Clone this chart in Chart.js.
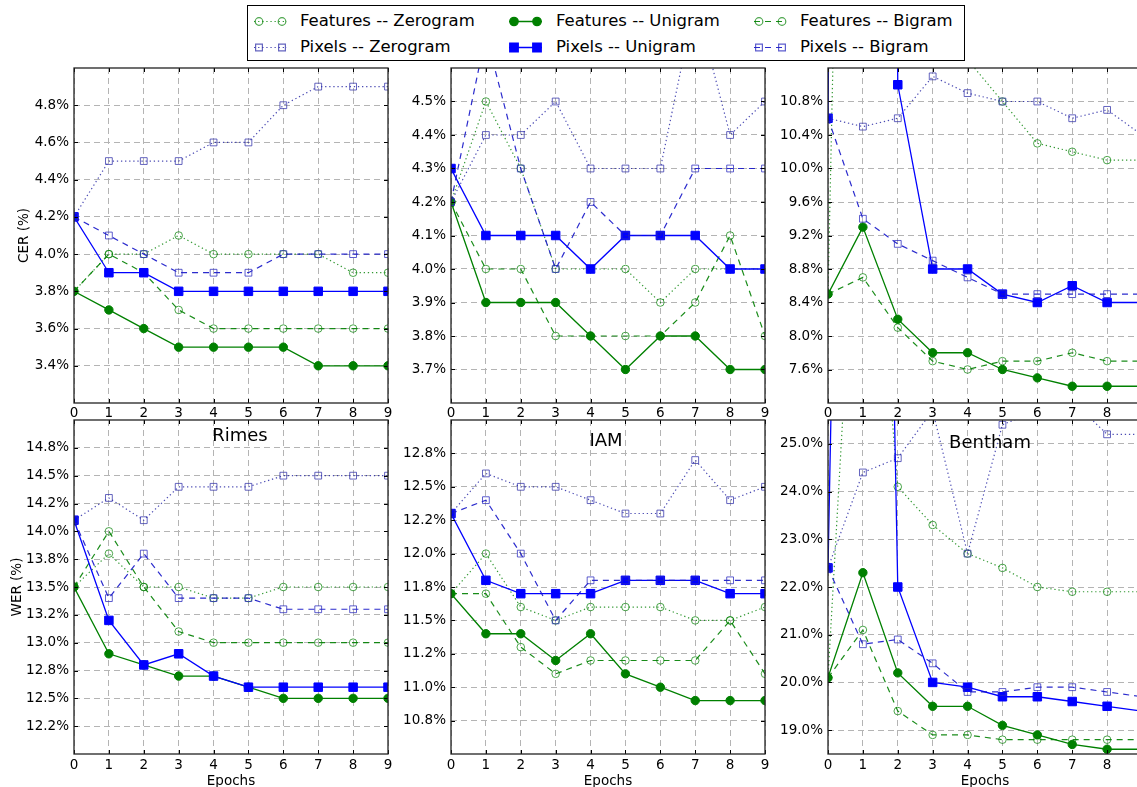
<!DOCTYPE html>
<html>
<head>
<meta charset="utf-8">
<title>CER / WER by epoch</title>
<script src="https://cdn.jsdelivr.net/npm/chart.js@4.4.1/dist/chart.umd.min.js"></script>
<style>
  html, body { margin: 0; padding: 0; background: #fff; }
  body { position: relative; width: 1137px; height: 787px; overflow: hidden; font-family: "DejaVu Sans", sans-serif; }
  canvas.panel { position: absolute; }
  #legend { position: absolute; left: 247px; top: 5px; width: 718px; height: 56px; box-sizing: border-box; border: 1px solid #000; background: #fff; }
  .swatch { position: absolute; }
  .label { position: absolute; font-size: 16.5px; line-height: 20px; white-space: nowrap; color: #000; }
</style>
</head>
<body>
<div id="legend"></div>
<canvas class="panel" id="rimesCer"></canvas>
<canvas class="panel" id="iamCer"></canvas>
<canvas class="panel" id="benthamCer"></canvas>
<canvas class="panel" id="rimesWer"></canvas>
<canvas class="panel" id="iamWer"></canvas>
<canvas class="panel" id="benthamWer"></canvas>
<script>
Chart.defaults.font.family = '"DejaVu Sans", sans-serif';
Chart.defaults.color = '#000';

const epochs = [0, 1, 2, 3, 4, 5, 6, 7, 8, 9];
const seriesNames = [
  'Features -- Zerogram', 'Features -- Unigram', 'Features -- Bigram',
  'Pixels -- Zerogram', 'Pixels -- Unigram', 'Pixels -- Bigram'
];

// one row per series, same order as seriesNames (values in %)
const rimesCer = [
  [3.8, 4.0, 4.0, 4.1, 4.0, 4.0, 4.0, 4.0, 3.9, 3.9],
  [3.8, 3.7, 3.6, 3.5, 3.5, 3.5, 3.5, 3.4, 3.4, 3.4],
  [3.8, 4.0, 3.9, 3.7, 3.6, 3.6, 3.6, 3.6, 3.6, 3.6],
  [4.2, 4.5, 4.5, 4.5, 4.6, 4.6, 4.8, 4.9, 4.9, 4.9],
  [4.2, 3.9, 3.9, 3.8, 3.8, 3.8, 3.8, 3.8, 3.8, 3.8],
  [4.2, 4.1, 4.0, 3.9, 3.9, 3.9, 4.0, 4.0, 4.0, 4.0]
];
const iamCer = [
  [4.2, 4.5, 4.3, 4.0, 4.0, 4.0, 3.9, 4.0, 4.0, 4.0],
  [4.2, 3.9, 3.9, 3.9, 3.8, 3.7, 3.8, 3.8, 3.7, 3.7],
  [4.2, 4.0, 4.0, 3.8, 3.8, 3.8, 3.8, 3.9, 4.1, 3.8],
  [4.2, 4.4, 4.4, 4.5, 4.3, 4.3, 4.3, 4.8, 4.4, 4.5],
  [4.3, 4.1, 4.1, 4.1, 4.0, 4.1, 4.1, 4.1, 4.0, 4.0],
  [4.2, 4.7, 4.3, 4.0, 4.2, 4.1, 4.1, 4.3, 4.3, 4.3]
];
const benthamCer = [
  [8.5, 28, 16, 13, 11.3, 10.8, 10.3, 10.2, 10.1, 10.1],
  [8.5, 9.3, 8.2, 7.8, 7.8, 7.6, 7.5, 7.4, 7.4, 7.4],
  [8.5, 8.7, 8.1, 7.7, 7.6, 7.7, 7.7, 7.8, 7.7, 7.7],
  [10.6, 10.5, 10.6, 11.1, 10.9, 10.8, 10.8, 10.6, 10.7, 10.4],
  [10.6, 60, 11.0, 8.8, 8.8, 8.5, 8.4, 8.6, 8.4, 8.4],
  [10.6, 9.4, 9.1, 8.9, 8.7, 8.5, 8.5, 8.5, 8.5, 8.5]
];
const rimesWer = [
  [13.5, 13.8, 13.5, 13.5, 13.4, 13.4, 13.5, 13.5, 13.5, 13.5],
  [13.5, 12.9, 12.8, 12.7, 12.7, 12.6, 12.5, 12.5, 12.5, 12.5],
  [13.5, 14.0, 13.5, 13.1, 13.0, 13.0, 13.0, 13.0, 13.0, 13.0],
  [14.1, 14.3, 14.1, 14.4, 14.4, 14.4, 14.5, 14.5, 14.5, 14.5],
  [14.1, 13.2, 12.8, 12.9, 12.7, 12.6, 12.6, 12.6, 12.6, 12.6],
  [14.1, 13.4, 13.8, 13.4, 13.4, 13.4, 13.3, 13.3, 13.3, 13.3]
];
const iamWer = [
  [11.7, 12.0, 11.6, 11.5, 11.6, 11.6, 11.6, 11.5, 11.5, 11.6],
  [11.7, 11.4, 11.4, 11.2, 11.4, 11.1, 11.0, 10.9, 10.9, 10.9],
  [11.7, 11.7, 11.3, 11.1, 11.2, 11.2, 11.2, 11.2, 11.5, 11.1],
  [12.3, 12.6, 12.5, 12.5, 12.4, 12.3, 12.3, 12.7, 12.4, 12.5],
  [12.3, 11.8, 11.7, 11.7, 11.7, 11.8, 11.8, 11.8, 11.7, 11.7],
  [12.3, 12.4, 12.0, 11.5, 11.8, 11.8, 11.8, 11.8, 11.8, 11.8]
];
const benthamWer = [
  [20.1, 33, 24.1, 23.3, 22.7, 22.4, 22.0, 21.9, 21.9, 21.9],
  [20.1, 22.3, 20.2, 19.5, 19.5, 19.1, 18.9, 18.7, 18.6, 18.6],
  [20.1, 21.1, 19.4, 18.9, 18.9, 18.8, 18.8, 18.8, 18.8, 18.8],
  [22.4, 24.4, 24.7, 25.7, 22.7, 25.4, 25.7, 25.9, 25.2, 25.2],
  [22.4, 60, 22.0, 20.0, 19.9, 19.7, 19.7, 19.6, 19.5, 19.4],
  [22.4, 20.8, 20.9, 20.4, 19.8, 19.8, 19.9, 19.9, 19.8, 19.7]
];

// axis limits, tick values and tick labels
const rimesCerRange = [3.2, 5.0];
const rimesCerTicks = [3.4, 3.6, 3.8, 4.0, 4.2, 4.4, 4.6, 4.8];
const rimesCerLabels = ['3.4%', '3.6%', '3.8%', '4.0%', '4.2%', '4.4%', '4.6%', '4.8%'];
const iamCerRange = [3.6, 4.6];
const iamCerTicks = [3.7, 3.8, 3.9, 4.0, 4.1, 4.2, 4.3, 4.4, 4.5];
const iamCerLabels = ['3.7%', '3.8%', '3.9%', '4.0%', '4.1%', '4.2%', '4.3%', '4.4%', '4.5%'];
const benthamCerRange = [7.2, 11.2];
const benthamCerTicks = [7.6, 8.0, 8.4, 8.8, 9.2, 9.6, 10.0, 10.4, 10.8];
const benthamCerLabels = ['7.6%', '8.0%', '8.4%', '8.8%', '9.2%', '9.6%', '10.0%', '10.4%', '10.8%'];
const rimesWerRange = [12.0, 15.0];
const rimesWerTicks = [12.25, 12.5, 12.75, 13.0, 13.25, 13.5, 13.75, 14.0, 14.25, 14.5, 14.75];
const rimesWerLabels = ['12.2%', '12.5%', '12.8%', '13.0%', '13.2%', '13.5%', '13.8%', '14.0%', '14.2%', '14.5%', '14.8%'];
const iamWerRange = [10.5, 13.0];
const iamWerTicks = [10.75, 11.0, 11.25, 11.5, 11.75, 12.0, 12.25, 12.5, 12.75];
const iamWerLabels = ['10.8%', '11.0%', '11.2%', '11.5%', '11.8%', '12.0%', '12.2%', '12.5%', '12.8%'];
const benthamWerRange = [18.5, 25.5];
const benthamWerTicks = [19, 20, 21, 22, 23, 24, 25];
const benthamWerLabels = ['19.0%', '20.0%', '21.0%', '22.0%', '23.0%', '24.0%', '25.0%'];

const seriesStyles = [
  { line: 'rgba(0,128,0,0.8)', width: 1.2, dash: [1.3, 2.8], shape: 'circle', radius: 3.8, fill: 'rgba(0,0,0,0)', edge: 'rgba(0,128,0,0.7)' },
  { line: '#008000', width: 1.3, dash: [], shape: 'circle', radius: 4.2, fill: '#008000', edge: '#008000' },
  { line: 'rgba(0,128,0,0.9)', width: 1.2, dash: [6, 5], shape: 'circle', radius: 3.8, fill: 'rgba(0,0,0,0)', edge: 'rgba(0,128,0,0.7)' },
  { line: 'rgba(30,30,160,0.8)', width: 1.2, dash: [1.3, 2.8], shape: 'rect', radius: 4.8, fill: 'rgba(0,0,0,0)', edge: 'rgba(50,50,170,0.75)' },
  { line: '#0000ff', width: 1.3, dash: [], shape: 'rect', radius: 6, fill: '#0000ff', edge: '#0000ff' },
  { line: 'rgba(20,20,200,0.9)', width: 1.2, dash: [6, 5], shape: 'rect', radius: 4.8, fill: 'rgba(0,0,0,0)', edge: 'rgba(40,40,190,0.75)' }
];

const tickFont = { size: 13.5, lineHeight: 1.2 };

// frame, inward tick marks and in-plot title (matplotlib look)
const framePlugin = {
  id: 'frame',
  afterDatasetsDraw(chart, args, opts) {
    const { ctx, chartArea: a, scales: { x, y } } = chart;
    ctx.save();
    ctx.strokeStyle = '#000';
    ctx.lineWidth = 1;
    ctx.beginPath();
    x.ticks.forEach(t => {
      const px = Math.round(x.getPixelForValue(t.value)) + 0.5;
      ctx.moveTo(px, a.top); ctx.lineTo(px, a.top + 4);
      ctx.moveTo(px, a.bottom); ctx.lineTo(px, a.bottom - 4);
    });
    y.ticks.forEach(t => {
      const py = Math.round(y.getPixelForValue(t.value)) + 0.5;
      ctx.moveTo(a.left, py); ctx.lineTo(a.left + 4, py);
      ctx.moveTo(a.right, py); ctx.lineTo(a.right - 4, py);
    });
    ctx.stroke();
    ctx.strokeStyle = '#222';
    ctx.lineWidth = 1.3;
    ctx.strokeRect(a.left, a.top, a.right - a.left, a.bottom - a.top);
    if (opts.text) {
      ctx.font = '18px "DejaVu Sans"';
      ctx.fillStyle = '#000';
      ctx.textAlign = 'center';
      ctx.textBaseline = 'alphabetic';
      ctx.fillText(opts.text, a.left + opts.dx, a.top + opts.dy);
    }
    ctx.restore();
  }
};

const panels = [
  { id: 'rimesCer', values: rimesCer, range: rimesCerRange, ticks: rimesCerTicks, labels: rimesCerLabels,
    left: 0, top: 60, height: 363, xHeight: 20, xPad: 2, yTitle: 'CER (%)', yTitlePad: 16 },
  { id: 'iamCer', values: iamCer, range: iamCerRange, ticks: iamCerTicks, labels: iamCerLabels,
    left: 377, top: 60, height: 363, xHeight: 20, xPad: 2 },
  { id: 'benthamCer', values: benthamCer, range: benthamCerRange, ticks: benthamCerTicks, labels: benthamCerLabels,
    left: 754, top: 60, height: 363, xHeight: 20, xPad: 2 },
  { id: 'rimesWer', values: rimesWer, range: rimesWerRange, ticks: rimesWerTicks, labels: rimesWerLabels,
    left: 0, top: 412, height: 375, xHeight: 33, xPad: 3, xTitle: 'Epochs', yTitle: 'WER (%)', yTitlePad: 9,
    title: 'Rimes', titleDx: 166, titleDy: 21 },
  { id: 'iamWer', values: iamWer, range: iamWerRange, ticks: iamWerTicks, labels: iamWerLabels,
    left: 377, top: 412, height: 375, xHeight: 33, xPad: 3, xTitle: 'Epochs',
    title: 'IAM', titleDx: 155, titleDy: 26 },
  { id: 'benthamWer', values: benthamWer, range: benthamWerRange, ticks: benthamWerTicks, labels: benthamWerLabels,
    left: 754, top: 412, height: 375, xHeight: 33, xPad: 3, xTitle: 'Epochs',
    title: 'Bentham', titleDx: 162, titleDy: 28 }
];

const canvasWidth = 398;   // 74 axis + 314 plot + 10 padding
const gridStyle = { color: '#b4b4b4', lineWidth: 1, drawTicks: false };
const gridBorder = { display: false, dash: [6, 4] };

const makePanel = (p) => {
  const canvas = document.getElementById(p.id);
  canvas.width = canvasWidth;
  canvas.height = p.height;
  canvas.style.left = p.left + 'px';
  canvas.style.top = p.top + 'px';
  canvas.style.width = canvasWidth + 'px';
  canvas.style.height = p.height + 'px';

  return new Chart(canvas, {
    type: 'line',
    data: {
      datasets: p.values.map((vals, i) => {
        const s = seriesStyles[i];
        return {
          label: seriesNames[i],
          data: epochs.map((e, j) => ({ x: e, y: vals[j] })),
          borderColor: s.line,
          borderWidth: s.width,
          borderDash: s.dash,
          pointStyle: s.shape,
          pointRadius: s.radius,
          pointBackgroundColor: s.fill,
          pointBorderColor: s.edge,
          pointBorderWidth: 1,
          tension: 0,
          fill: false,
          order: 6 - i
        };
      })
    },
    options: {
      responsive: false,
      animation: false,
      devicePixelRatio: 1,
      events: [],
      layout: { padding: { left: 0, right: 10, top: 8, bottom: 0 } },
      plugins: {
        legend: { display: false },
        tooltip: { enabled: false },
        frame: { text: p.title, dx: p.titleDx, dy: p.titleDy }
      },
      scales: {
        x: {
          type: 'linear', min: 0, max: 9, bounds: 'data',
          afterBuildTicks: (s) => { s.ticks = epochs.map(v => ({ value: v })); },
          afterFit: (s) => { s.height = p.xHeight; s.paddingLeft = 0; s.paddingRight = 0; },
          grid: gridStyle, border: gridBorder,
          ticks: { font: tickFont, padding: p.xPad, autoSkip: false, maxRotation: 0, callback: (v) => String(v) },
          title: { display: !!p.xTitle, text: p.xTitle || '', font: { size: 13.5, lineHeight: 0.75 }, padding: { top: 0, bottom: 0 } }
        },
        y: {
          type: 'linear', min: p.range[0], max: p.range[1], bounds: 'data',
          afterBuildTicks: (s) => { s.ticks = p.ticks.map(v => ({ value: v })); },
          afterFit: (s) => { s.width = 74; s.paddingTop = 0; s.paddingBottom = 0; },
          grid: gridStyle, border: gridBorder,
          ticks: { font: tickFont, padding: 5, autoSkip: false, callback: (v, i) => p.labels[i] },
          title: { display: !!p.yTitle, text: p.yTitle || '', font: { size: 13.5, lineHeight: 1.2 }, padding: { top: p.yTitlePad || 0, bottom: 0 } }
        }
      }
    },
    plugins: [framePlugin]
  });
};

panels.forEach(makePanel);

// Legend: 3 columns x 2 rows, matplotlib style handles
const legend = document.getElementById('legend');
const handleLefts = [6, 261, 506];
const textLefts = [52, 308, 552];
const rowTops = [5, 30.5];

seriesNames.forEach((name, i) => {
  const col = i % 3;
  const row = Math.floor(i / 3);
  const s = seriesStyles[i];

  const sw = document.createElement('canvas');
  sw.className = 'swatch';
  sw.width = 34; sw.height = 20;
  sw.style.left = handleLefts[col] + 'px';
  sw.style.top = rowTops[row] + 'px';
  legend.appendChild(sw);
  const c = sw.getContext('2d');
  c.strokeStyle = s.line;
  c.lineWidth = s.width;
  c.setLineDash(s.dash);
  c.beginPath(); c.moveTo(0, 10.5); c.lineTo(33, 10.5); c.stroke();
  c.setLineDash([]);
  c.fillStyle = s.fill;
  c.strokeStyle = s.edge;
  [5, 28].forEach(px => Chart.helpers.drawPoint(c, { pointStyle: s.shape, radius: s.radius, borderWidth: 1, rotation: 0 }, px, 10.5));

  const lab = document.createElement('span');
  lab.className = 'label';
  lab.textContent = name;
  lab.style.left = textLefts[col] + 'px';
  lab.style.top = rowTops[row] + 'px';
  legend.appendChild(lab);
});
</script>
</body>
</html>
